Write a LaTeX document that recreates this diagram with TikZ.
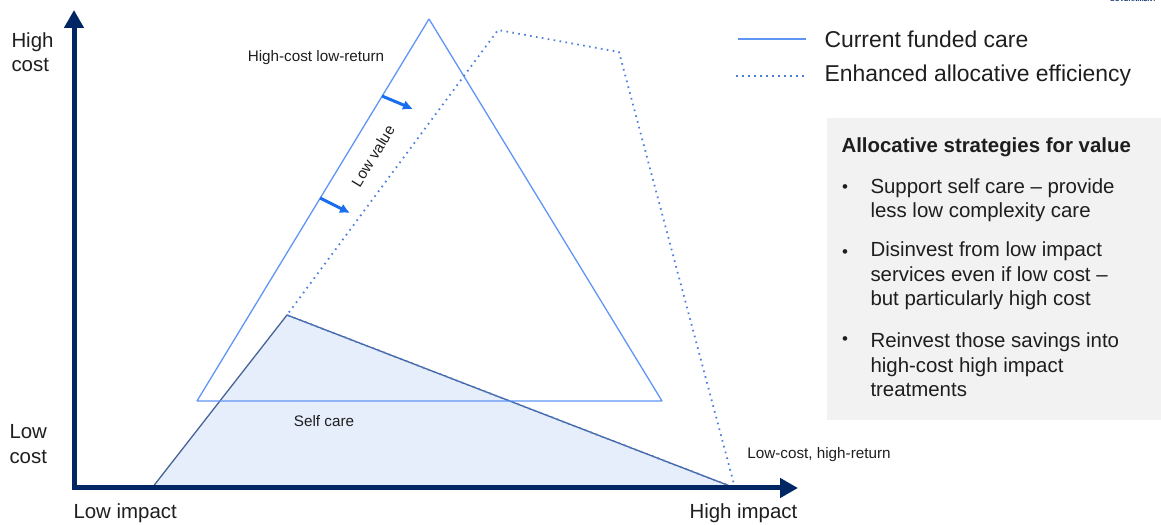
\documentclass[tikz,border=0pt]{standalone}
\usepackage{fontspec}
\setmainfont{Liberation Sans}
\usepackage{tikz}
\usetikzlibrary{shapes,arrows,arrows.meta,backgrounds,%
positioning,calc%
}
\definecolor{axisnavy}{RGB}{0,38,100}
\definecolor{careblue}{RGB}{95,150,245}
\definecolor{shiftblue}{RGB}{25,110,240}
\definecolor{dotblue}{RGB}{75,125,220}
\definecolor{selfslate}{RGB}{70,100,150}
\definecolor{selffill}{RGB}{230,238,252}
\definecolor{boxgrey}{RGB}{242,242,242}
\definecolor{inkgrey}{RGB}{30,30,30}

\begin{document}
\begin{tikzpicture}[>=latex',line join=bevel,
  funded/.style={draw=careblue,line width=1.3bp},
  enhanced/.style={draw=dotblue,line width=1.8bp,dash pattern=on 1.6bp off 4.4bp},
  shiftarrow/.style={-{Latex[length=10bp,width=10bp]},draw=shiftblue,line width=3bp},
  smalltxt/.style={text=inkgrey,font=\fontsize{15.3}{18}\selectfont,inner sep=0pt},
  bigtxt/.style={text=inkgrey,font=\fontsize{20.5}{24.5}\selectfont,inner sep=0pt,align=left},
  legtxt/.style={text=inkgrey,font=\fontsize{23}{27}\selectfont,inner sep=0pt,anchor=west},
  dot/.style={text=inkgrey,font=\fontsize{17}{19}\selectfont,inner sep=0pt},
]
\useasboundingbox (0bp,0bp) rectangle (1161bp,525bp);
\pgfsetlinewidth{1bp}
% corners of the picture
 \coordinate (ytip) at (74bp,515bp);
 \coordinate (origin) at (74bp,37bp);
 \coordinate (xtip) at (798bp,37bp);
 \coordinate (apex) at (429bp,506bp);
 \coordinate (left) at (197bp,124bp);
 \coordinate (right) at (662bp,124bp);
 \coordinate (base) at (152bp,37bp);
 \coordinate (peak) at (287bp,210bp);
 \coordinate (far) at (735bp,37bp);
 \coordinate (topl) at (498bp,495bp);
 \coordinate (topr) at (619bp,473bp);
% self care region
\begin{scope}
 \fill [selffill] (base) -- (peak) -- (far) -- cycle;
 \draw [selfslate,line width=1.3bp] (base) -- (peak) -- (far);
\end{scope}
% current and enhanced care
 \draw [funded] (apex) -- (left) -- (right) -- cycle;
 \draw [enhanced] (far) -- (topr) -- (topl) -- (peak) -- (far);
% low value shift
 \coordinate (s1) at (382bp,429bp);
 \coordinate (e1) at (413bp,416bp);
 \coordinate (s2) at (320bp,327bp);
 \coordinate (e2) at (350bp,312bp);
 \draw [shiftarrow] (s1) -- (e1);
 \draw [shiftarrow] (s2) -- (e2);
 \node [smalltxt,rotate=58.7] (lowvalue) at (373bp,369bp) {Low value};
% axes
 \draw [axisnavy,line width=5bp,line join=miter,
   {Triangle[length=18bp,width=19bp]}-{Triangle[length=18bp,width=19bp]}] (ytip) -- (origin) -- (xtip);
 \node [bigtxt,anchor=west] (highcost) at (11bp,473bp) {High\\cost};
 \node [bigtxt,anchor=west] (lowcost) at (9bp,81bp) {Low\\cost};
 \node [bigtxt,anchor=west] (lowimpact) at (73bp,12bp) {Low impact};
 \node [bigtxt,anchor=west] (highimpact) at (689bp,12bp) {High impact};
% region labels
 \node [smalltxt] (hclr) at (316bp,467bp) {High-cost low-return};
 \node [smalltxt] (selfcare) at (324bp,104bp) {Self care};
 \node [smalltxt] (lchr) at (819bp,70bp) {Low-cost, high-return};
% legend
 \coordinate (leg1a) at (738bp,486bp);
 \coordinate (leg1b) at (806bp,486bp);
 \coordinate (leg2a) at (736bp,449bp);
 \coordinate (leg2b) at (806bp,449bp);
 \draw [funded,line width=1.8bp] (leg1a) -- (leg1b);
 \draw [enhanced] (leg2a) -- (leg2b);
 \node [legtxt] (leg1) at (824bp,486bp) {Current funded care};
 \node [legtxt] (leg2) at (824bp,449bp) {Enhanced allocative efficiency};
% strategies box
 \node [fill=boxgrey,anchor=north west,minimum width=334bp,minimum height=302bp,inner sep=0pt] (strategies) at (826bp,407bp) {};
 \node [bigtxt,font=\bfseries\fontsize{20.5}{24.5}\selectfont,anchor=west] (boxtitle) at (841bp,378bp) {Allocative strategies for value};
 \node [dot] (b1) at (845bp,336bp) {•};
 \node [dot] (b2) at (845bp,271bp) {•};
 \node [dot] (b3) at (845bp,184bp) {•};
 \node [bigtxt,anchor=west] (t1) at (870bp,325bp) {Support self care – provide\\less low complexity care};
 \node [bigtxt,anchor=west] (t2) at (870bp,249bp) {Disinvest from low impact\\services even if low cost –\\but particularly high cost};
 \node [bigtxt,anchor=west] (t3) at (870bp,160bp) {Reinvest those savings into\\high-cost high impact\\treatments};
% header fragment
 \node [text=axisnavy,font=\bfseries\fontsize{6.5}{7}\selectfont,inner sep=0pt] (gov) at (1133bp,525.5bp) {GOVERNMENT};
\end{tikzpicture}
\end{document}
